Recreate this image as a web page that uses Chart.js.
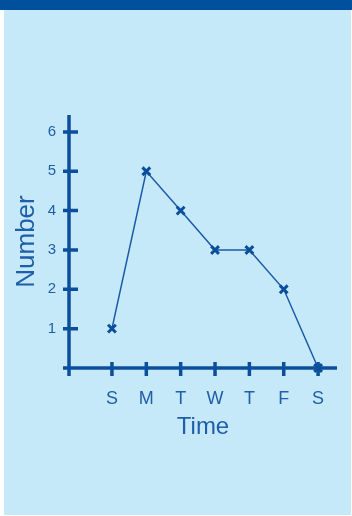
<!DOCTYPE html>
<html>
<head>
<meta charset="utf-8">
<script src="https://cdn.jsdelivr.net/npm/chart.js@4.4.1/dist/chart.umd.min.js"></script>
<style>
  body { margin: 0; background: #ffffff; }
  #page { position: relative; width: 352px; height: 516px; overflow: hidden; }
  #band { position: absolute; left: 0; top: 0; width: 352px; height: 10px; background: #00509e; }
  #panel { position: absolute; left: 4px; top: 10px; width: 347px; height: 505px; background: #c6e9f9; }
  #chart { position: absolute; left: 0; top: 0; }
</style>
</head>
<body>
<div id="page">
  <div id="band"></div>
  <div id="panel"></div>
  <canvas id="chart" width="352" height="516"></canvas>
</div>
<script>
var dayLabels = ["S", "M", "T", "W", "T", "F", "S"]
var dayPositions = [1, 2, 3, 4, 5, 6, 7]
var numberValues = [1, 5, 4, 3, 3, 2, 0]
var yTickValues = [1, 2, 3, 4, 5, 6]

var axisColor = "#0b4f9c"
var textColor = "#1f5ea8"

// hand drawn look: axes that cross each other, ticks that cross the axes
const crossAxes = {
    id: "crossAxes",
    beforeDatasetsDraw(chart) {
        const {ctx, scales} = chart
        const x = scales.x, y = scales.y
        const x0 = x.getPixelForValue(x.min)
        const y0 = y.getPixelForValue(0)
        ctx.save()
        ctx.strokeStyle = axisColor
        ctx.lineWidth = 3.5
        ctx.lineCap = "butt"
        ctx.beginPath()
        ctx.moveTo(x0 - 6, y0)
        ctx.lineTo(x.getPixelForValue(x.max), y0)
        ctx.moveTo(x0, y.getPixelForValue(y.max))
        ctx.lineTo(x0, y0 + 8)
        yTickValues.forEach(v => {
            const py = y.getPixelForValue(v)
            ctx.moveTo(x0 - 6, py)
            ctx.lineTo(x0 + 9, py)
        })
        dayPositions.forEach(v => {
            const px = x.getPixelForValue(v)
            ctx.moveTo(px, y0 - 6)
            ctx.lineTo(px, y0 + 8)
        })
        ctx.stroke()
        ctx.restore()
    }
}

new Chart(document.getElementById("chart"), {
    type: "line",
    data: {
        datasets: [{
            data: dayPositions.map((d, i) => ({x: d, y: numberValues[i]})),
            borderColor: "#1a5aa5",
            borderWidth: 1.5,
            pointStyle: "crossRot",
            pointRadius: 5.5,
            pointBorderWidth: 3,
            pointBorderColor: axisColor,
            tension: 0,
            clip: false
        }]
    },
    options: {
        responsive: false,
        animation: false,
        events: [],
        layout: {
            padding: {top: 115, right: 15, left: 0, bottom: 68}
        },
        scales: {
            x: {
                type: "linear",
                min: -0.25,
                max: 7.55,
                afterBuildTicks: axis => { axis.ticks = dayPositions.map(v => ({value: v})) },
                afterFit: axis => { axis.height = 80 },
                grid: {display: false, drawTicks: false},
                border: {display: false},
                ticks: {
                    padding: 20,
                    color: textColor,
                    font: {family: "Liberation Sans", size: 18},
                    maxRotation: 0,
                    callback: (v) => dayLabels[dayPositions.indexOf(v)]
                },
                title: {
                    display: true,
                    text: "Time",
                    color: textColor,
                    font: {family: "Liberation Sans", size: 24},
                    padding: {bottom: 6, top: 0}
                }
            },
            y: {
                min: 0,
                max: 6.43,
                afterBuildTicks: axis => { axis.ticks = yTickValues.map(v => ({value: v})) },
                afterFit: axis => { axis.width = 69 },
                grid: {display: false, drawTicks: false},
                border: {display: false},
                ticks: {
                    padding: 13,
                    color: textColor,
                    font: {family: "Liberation Sans", size: 15}
                },
                title: {
                    display: true,
                    text: "Number",
                    color: textColor,
                    font: {family: "Liberation Sans", size: 26},
                    padding: {top: 11, bottom: 0}
                }
            }
        },
        plugins: {
            legend: {display: false},
            tooltip: {enabled: false}
        }
    },
    plugins: [crossAxes]
})
</script>
</body>
</html>
